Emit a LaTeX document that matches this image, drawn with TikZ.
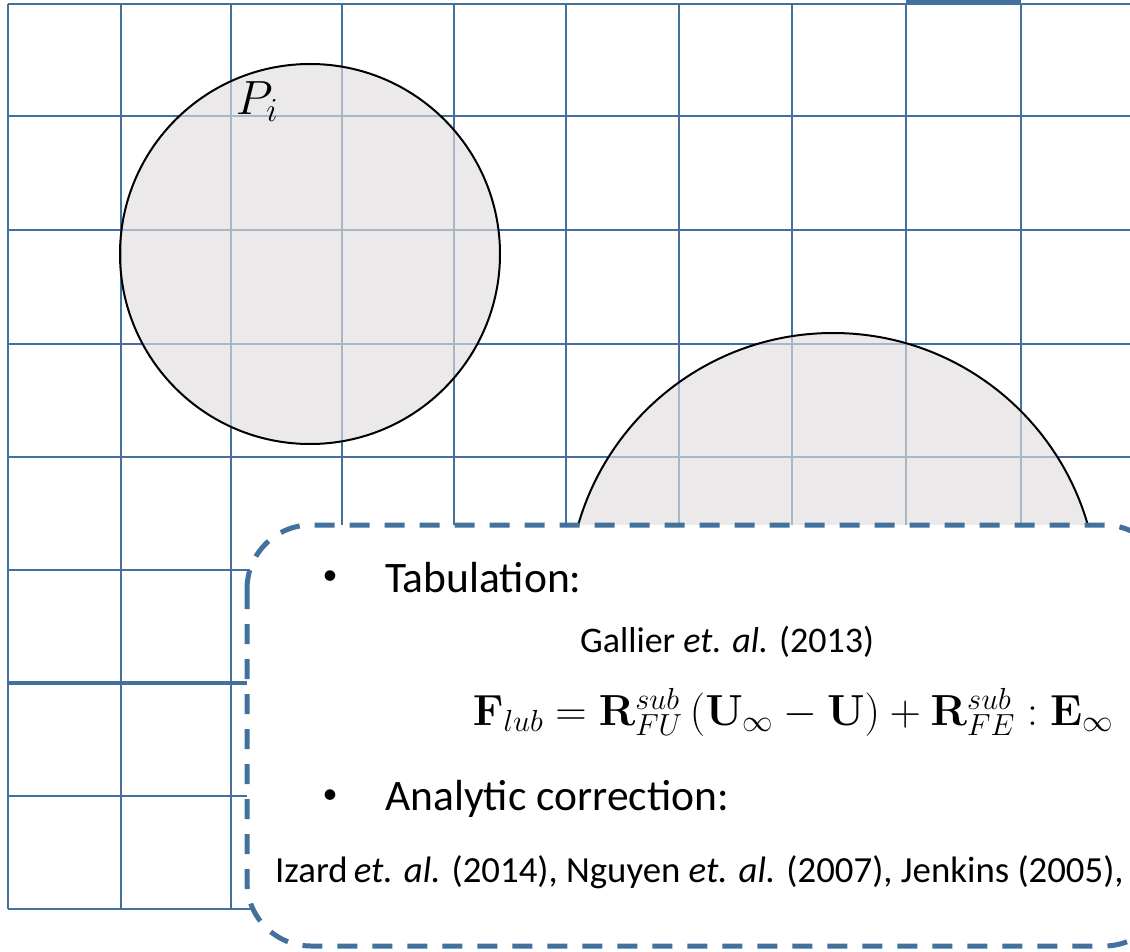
\RequirePackage{fix-cm}
\documentclass[tikz,border=0pt]{standalone}
\usepackage{amsmath}
\usepackage[no-math]{fontspec}
\setmainfont{Carlito}
\definecolor{gridblue}{HTML}{41719C}
\definecolor{discgray}{RGB}{224,221,223}
\tikzset{
  gridline/.style={draw=gridblue,line width=2.8pt},
  disc/.style={draw=black,line width=2pt,fill=discgray,fill opacity=0.65},
  dashbox/.style={draw=gridblue,line width=5pt,dash pattern=on 20pt off 15pt,fill=white,rounded corners=64pt},
  bigtext/.style={anchor=base west,inner sep=0pt,font=\fontsize{43.5}{50}\selectfont},
  bulletdot/.style={inner sep=0pt,font=\fontsize{30}{36}\selectfont},
  citetext/.style={anchor=base,inner sep=0pt,font=\fontsize{36}{42}\selectfont},
}
\begin{document}
\begin{tikzpicture}[x=1pt,y=-1pt]
\useasboundingbox (0,0) rectangle (1130,952);
\clip (0,0) rectangle (1130,952);
% grid
\foreach \gx in {8,121,231,342,454,566,679,792,906,1021}
  \draw[gridline] (\gx,4) -- (\gx,909);
\foreach \gy in {4,116,230,344,457,570,683,796,909}
  \draw[gridline] (8,\gy) -- (1130,\gy);
\draw[gridline,line width=4.5pt] (906,2) -- (1021,2);
\draw[gridline,line width=4pt] (8,683) -- (250,683);

% particles
\draw[disc] (310,254) circle[radius=190];
\draw[disc] (833,598) circle[radius=265];
\node[inner sep=0pt,font=\fontsize{48}{54}\selectfont] (plabel) at (257,102) {$P_i$};

% lubrication box
\draw[dashbox] (247,525) rectangle (1168,946);
\node[bulletdot] (dota) at (330,578) {•};
\node[bigtext] (tabul) at (385,592) {Tabulation:};
\node[citetext] (gallier) at (727,652) {Gallier \textit{et. al.} (2013)};
\node[inner sep=0pt,font=\fontsize{43.5}{50}\selectfont] (flub) at (793,712)
  {$\mathbf{F}_{lub} = \mathbf{R}^{sub}_{FU}\,(\mathbf{U}_\infty - \mathbf{U}) + \mathbf{R}^{sub}_{FE} : \mathbf{E}_\infty$};
\node[bulletdot] (dotb) at (330,797) {•};
\node[bigtext] (analyt) at (385,810) {Analytic correction:};
\node[citetext,anchor=base west,font=\fontsize{36.8}{42}\selectfont] (refs) at (275,882)
  {Izard\,\textit{et. al.} (2014), Nguyen \textit{et. al.} (2007), Jenkins (2005),};
\end{tikzpicture}
\end{document}
